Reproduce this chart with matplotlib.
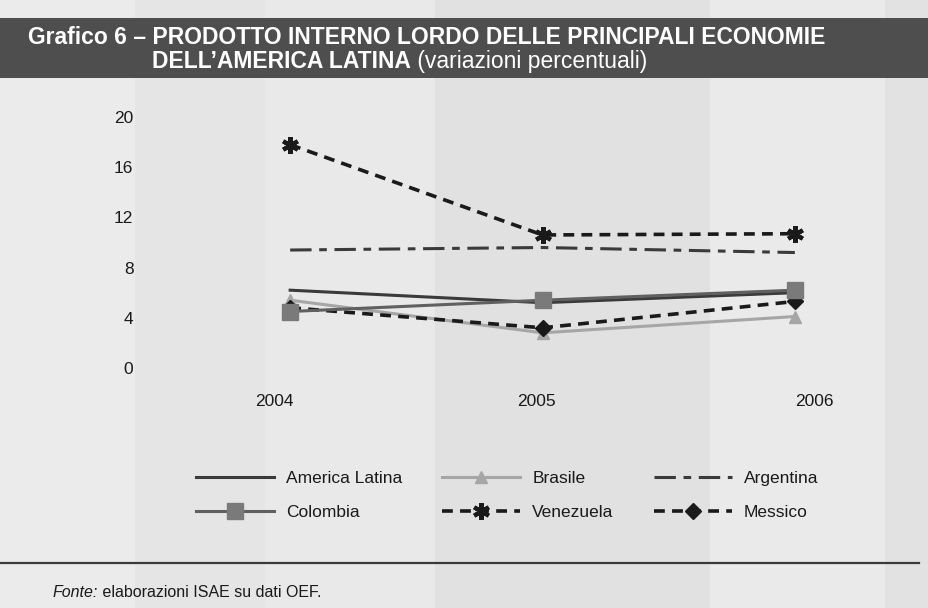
import matplotlib
matplotlib.use("Agg")
import matplotlib.pyplot as plt
import matplotlib.transforms as mtransforms
from matplotlib.patches import Rectangle
from matplotlib.lines import Line2D

# dati (variazioni percentuali del PIL)
anni = [2004, 2005, 2006]
america_latina = [6.2, 5.2, 6.0]
brasile = [5.4, 2.8, 4.1]
argentina = [9.4, 9.6, 9.2]
colombia = [4.5, 5.4, 6.2]
venezuela = [17.8, 10.6, 10.7]
messico = [4.8, 3.2, 5.3]
y_ticks = [0, 4, 8, 12, 16, 20]

plt.rcParams['font.family'] = ['Liberation Sans Narrow', 'Liberation Sans', 'DejaVu Sans']

W, H = 929, 608
fig = plt.figure(figsize=(W / 100, H / 100), dpi=100, facecolor='#e8e8e8')

# sfondo a strisce (carta scansionata)
strisce = [(0, 135, '#ebebeb'), (135, 265, '#e5e5e5'), (265, 435, '#e9e9e9'),
           (435, 710, '#e1e1e1'), (710, 885, '#eaeaea'), (885, 929, '#e2e2e2')]
for x0, x1, c in strisce:
    fig.patches.append(Rectangle((x0 / W, 0), (x1 - x0) / W, 1, transform=fig.transFigure,
                                 facecolor=c, edgecolor='none', zorder=-10))

# banda del titolo
fig.patches.append(Rectangle((0, 1 - 78 / H), 1, 60 / H, transform=fig.transFigure,
                             facecolor='#4e4e4e', edgecolor='none', zorder=-5))
fig.text(28 / W, 1 - 44 / H, 'Grafico 6 – PRODOTTO INTERNO LORDO DELLE PRINCIPALI ECONOMIE',
         color='white', fontsize=16.5, fontweight='bold', va='baseline', ha='left')
t2 = fig.text(152 / W, 1 - 73 / H, 'DELL’AMERICA LATINA', color='white', fontsize=16.5,
              fontweight='bold', va='bottom', ha='left')
fig.add_artist(plt.Annotation(' (variazioni percentuali)', xy=(1, 0), xycoords=t2,
                              va='bottom', ha='left', color='white', fontsize=16.5))

ax = fig.add_axes([164 / W, 1 - 380.5 / H, 757 / W, 276 / H])
ax.set_facecolor('none')
ax.set_xlim(2003.5, 2006.5)
ax.set_ylim(-1, 21)
for s in ax.spines.values():
    s.set_visible(False)

ax.plot(anni, america_latina, color='#3a3a3a', lw=2.2, label='America Latina')
ax.plot(anni, brasile, color='#a6a6a6', lw=2.2, marker='^', ms=9, mfc='#a6a6a6', mec='#a6a6a6',
        label='Brasile')
ax.plot(anni, argentina, color='#3a3a3a', lw=2.2, dashes=(7, 2.5, 2.5, 2.5), label='Argentina')
ax.plot(anni, colombia, color='#606060', lw=2.2, marker='s', ms=11, mfc='#7a7a7a', mec='#7a7a7a',
        label='Colombia', zorder=4)
ax.plot(anni, venezuela, color='#1a1a1a', lw=2.6, dashes=(3, 2), marker=(6, 2, 0), ms=12, mew=3,
        mec='#1a1a1a', label='Venezuela')
ax.plot(anni, messico, color='#1a1a1a', lw=2.6, dashes=(3, 2), marker='D', ms=8, mfc='#1a1a1a',
        mec='#1a1a1a', label='Messico')

ax.set_yticks(y_ticks)
ax.set_yticklabels([str(v) for v in y_ticks])
ax.set_xticks(anni)
ax.set_xticklabels([str(a) for a in anni])
ax.tick_params(axis='both', length=0, labelsize=12.5, labelcolor='#1a1a1a')
ax.tick_params(axis='y', pad=22)
ax.tick_params(axis='x', pad=10)
for lab, dx in zip(ax.get_xticklabels(), [-16, -6, 20]):
    lab.set_transform(lab.get_transform() + mtransforms.ScaledTranslation(dx / 100, 0, fig.dpi_scale_trans))

# legenda: 3 colonne, riempimento per righe
h, l = ax.get_legend_handles_labels()
ordine = [0, 3, 1, 4, 2, 5]
leg = fig.legend([h[i] for i in ordine], [l[i] for i in ordine], ncol=3,
                 loc='upper left', bbox_to_anchor=(180 / W, 1 - 455 / H),
                 frameon=False, fontsize=12.5, handlelength=4.5, handletextpad=0.7,
                 columnspacing=2.3, labelspacing=1.1, labelcolor='#1a1a1a')

# linea di separazione e fonte
fig.add_artist(Line2D([0, 919 / W], [1 - 563 / H] * 2, transform=fig.transFigure,
                      color='#3a3a3a', lw=1.6))
f1 = fig.text(53 / W, 1 - 600 / H, 'Fonte:', fontsize=11.5, style='italic', va='bottom',
              ha='left', color='#1a1a1a')
fig.add_artist(plt.Annotation(' elaborazioni ISAE su dati OEF.', xy=(1, 0), xycoords=f1,
                              va='bottom', ha='left', fontsize=11.5, color='#1a1a1a'))

fig.savefig('out.png', dpi=100, facecolor=fig.get_facecolor())
